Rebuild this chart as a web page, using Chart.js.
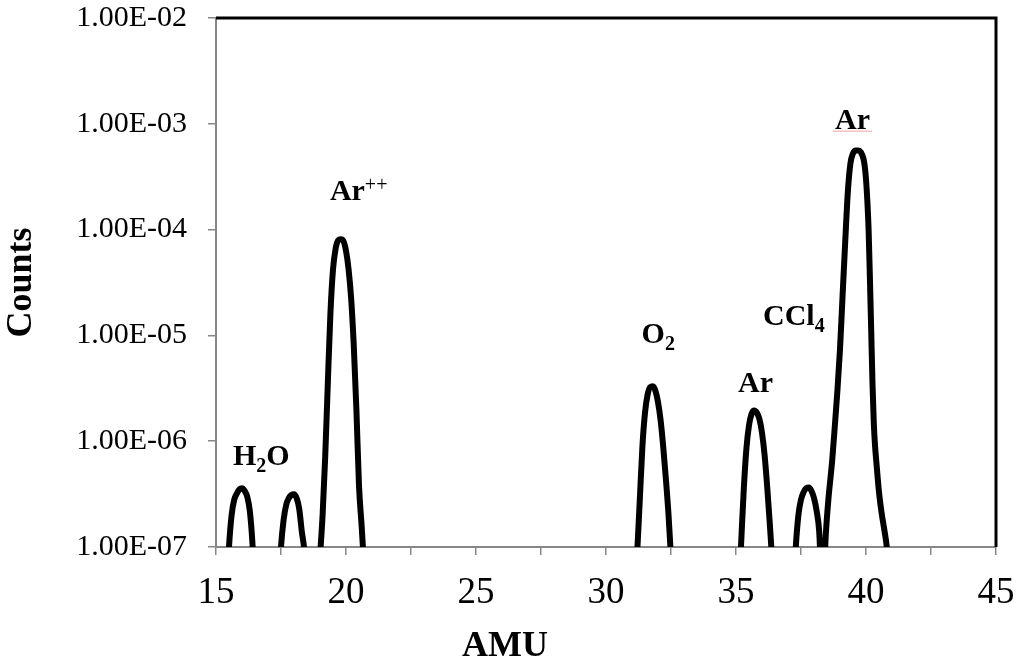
<!DOCTYPE html>
<html lang="en">
<head>
  <meta charset="UTF-8">
  <title>Mass Spectrum</title>
  <script src="https://cdn.jsdelivr.net/npm/chart.js"></script>
  <style>
    html, body {
      margin: 0;
      padding: 0;
      background: #fff;
    }
    #wrap {
      width: 1016px;
      height: 664px;
      position: relative;
    }
  </style>
</head>
<body>
  <div id="wrap">
    <canvas id="spectrumChart"></canvas>
  </div>

  <script>
    // AMU positions and measured counts (values under 1.00E-07 fall below the axis)
    const amu = [
      15.0, 15.3, 15.5, 15.6, 15.7, 15.8, 15.9, 16.0, 16.1, 16.2, 16.3, 16.4, 16.6,
      17.3, 17.5, 17.6, 17.7, 17.8, 17.9, 18.0, 18.1, 18.2, 18.3, 18.4, 18.6,
      18.8, 19.0, 19.1, 19.2, 19.3, 19.4, 19.5, 19.6, 19.7, 19.8, 19.9, 20.0, 20.1, 20.2, 20.3, 20.4, 20.5, 20.6, 20.7, 20.9,
      31.0, 31.2, 31.3, 31.4, 31.5, 31.6, 31.7, 31.8, 31.9, 32.0, 32.1, 32.2, 32.3, 32.4, 32.5, 32.7,
      35.0, 35.2, 35.3, 35.4, 35.5, 35.6, 35.7, 35.8, 35.9, 36.0, 36.1, 36.2, 36.3, 36.4, 36.6,
      37.1, 37.3, 37.4, 37.5, 37.6, 37.7, 37.8, 37.9, 38.0, 38.1, 38.2, 38.33,
      38.45, 38.55, 38.7, 38.8, 38.9, 39.0, 39.1, 39.2, 39.3, 39.4, 39.5, 39.6, 39.7, 39.8, 39.9, 39.95,
      40.0, 40.05, 40.1, 40.15, 40.2, 40.25, 40.3, 40.35, 40.4, 40.5, 40.6, 40.7, 40.8, 40.9, 41.1, 45.0
    ];
    const counts = [
      1e-8, 1e-8, 1.0e-7, 2.0e-7, 2.8e-7, 3.2e-7, 3.5e-7, 3.6e-7, 3.4e-7, 3.0e-7, 2.2e-7, 1.1e-7, 1e-8,
      1e-8, 1.0e-7, 1.8e-7, 2.5e-7, 2.9e-7, 3.1e-7, 3.15e-7, 2.9e-7, 2.3e-7, 1.4e-7, 0.9e-7, 1e-8,
      1e-8, 8e-8, 2.0e-7, 7.1e-7, 3.5e-6, 1.6e-5, 4.2e-5, 6.6e-5, 7.9e-5, 8.1e-5, 7.8e-5, 6.3e-5, 4.2e-5, 2.2e-5, 7.9e-6, 2.0e-6, 3.8e-7, 1.6e-7, 6.3e-8, 1e-8,
      1e-8, 8.9e-8, 2.8e-7, 8.9e-7, 1.86e-6, 2.75e-6, 3.24e-6, 3.3e-6, 3.0e-6, 2.34e-6, 1.58e-6, 8.9e-7, 4.5e-7, 2.1e-7, 8e-8, 1e-8,
      1e-8, 1.12e-7, 3.55e-7, 8.5e-7, 1.41e-6, 1.82e-6, 1.95e-6, 1.86e-6, 1.62e-6, 1.2e-6, 7.4e-7, 3.7e-7, 1.66e-7, 7e-8, 1e-8,
      1e-8, 1.0e-7, 2.0e-7, 2.8e-7, 3.3e-7, 3.6e-7, 3.65e-7, 3.4e-7, 2.9e-7, 2.2e-7, 1.4e-7, 3e-8,
      1.26e-7, 2.75e-7, 6.6e-7, 1.38e-6, 3.0e-6, 7.4e-6, 2.4e-5, 7.6e-5, 2.24e-4, 4.2e-4, 5.25e-4, 5.6e-4, 5.6e-4, 5.4e-4, 4.7e-4, 4.0e-4,
      3.0e-4, 1.9e-4, 1.0e-4, 3.5e-5, 1.12e-5, 3.5e-6, 1.48e-6, 8.9e-7, 6.3e-7, 3.3e-7, 2.1e-7, 1.48e-7, 1.0e-7, 5e-8, 1e-8, 1e-8
    ];

    const yTicks = [1e-7, 1e-6, 1e-5, 1e-4, 1e-3, 1e-2];
    const yTickLabels = ['1.00E-07', '1.00E-06', '1.00E-05', '1.00E-04', '1.00E-03', '1.00E-02'];
    const xLabelTicks = [15, 20, 25, 30, 35, 40, 45];

    // peak labels: text pieces and the data point of their left/baseline corner
    const peakLabels = [
      { parts: [['H'], ['2', 'sub'], ['O']], x: 15.65, y: 5.96e-7 },
      { parts: [['Ar'], ['++', 'sup']], x: 19.38, y: 1.9e-4 },
      { parts: [['O'], ['2', 'sub']], x: 31.37, y: 8.5e-6 },
      { parts: [['Ar']], x: 35.08, y: 2.9e-6 },
      { parts: [['CCl'], ['4', 'sub']], x: 36.04, y: 1.26e-5 },
      { parts: [['Ar']], x: 38.81, y: 8.9e-4, squiggle: true }
    ];

    const serif = '"Liberation Serif", "Times New Roman", serif';

    const frameAndLabels = {
      id: 'frameAndLabels',
      beforeDatasetsDraw(chart) {
        const { ctx, chartArea: a } = chart;
        ctx.save();
        ctx.strokeStyle = '#000';
        ctx.lineWidth = 3;
        ctx.beginPath();
        ctx.moveTo(a.left, a.top);
        ctx.lineTo(a.right, a.top);
        ctx.lineTo(a.right, a.bottom);
        ctx.stroke();
        ctx.restore();
      },
      afterDraw(chart) {
        const { ctx } = chart;
        const xs = chart.scales.x, ys = chart.scales.y;
        ctx.save();
        ctx.fillStyle = '#000';
        ctx.textBaseline = 'alphabetic';
        ctx.textAlign = 'left';
        peakLabels.forEach(lbl => {
          let px = xs.getPixelForValue(lbl.x);
          const py = ys.getPixelForValue(lbl.y);
          const startX = px;
          lbl.parts.forEach(([t, kind]) => {
            if (kind === 'sub') {
              ctx.font = 'bold 20px ' + serif;
              ctx.fillText(t, px, py + 7);
            } else if (kind === 'sup') {
              ctx.font = '20px ' + serif;
              ctx.fillText(t, px, py - 9);
            } else {
              ctx.font = 'bold 30px ' + serif;
              ctx.fillText(t, px, py);
            }
            px += ctx.measureText(t).width;
          });
          if (lbl.squiggle) {
            ctx.strokeStyle = '#f2a2a2';
            ctx.lineWidth = 1;
            ctx.beginPath();
            ctx.moveTo(startX - 2, py + 2);
            ctx.lineTo(px + 2, py + 2);
            ctx.stroke();
          }
        });
        // x axis title, centred on the page like the original
        ctx.font = 'bold 36px ' + serif;
        ctx.textAlign = 'center';
        ctx.fillText('AMU', 505, 656);
        ctx.restore();
      }
    };

    const ctx = document.getElementById('spectrumChart').getContext('2d');

    const chart = new Chart(ctx, {
      type: 'line',
      data: {
        datasets: [{
          data: amu.map((x, i) => ({ x: x, y: counts[i] })),
          borderColor: '#000',
          borderWidth: 6,
          pointRadius: 0,
          fill: false,
          tension: 0.4,
          cubicInterpolationMode: 'monotone',
          clip: 0
        }]
      },
      options: {
        responsive: true,
        maintainAspectRatio: false,
        animation: false,
        devicePixelRatio: 1,
        layout: { padding: { left: 0, right: 20, top: 18, bottom: 0 } },
        plugins: {
          legend: { display: false },
          tooltip: { enabled: false }
        },
        scales: {
          x: {
            type: 'linear',
            min: 15,
            max: 45,
            ticks: {
              stepSize: 2.5,
              autoSkip: false,
              maxRotation: 0,
              padding: 16,
              color: '#000',
              font: { family: serif, size: 37 },
              callback: v => xLabelTicks.includes(v) ? String(v) : ''
            },
            grid: {
              drawOnChartArea: false,
              color: '#878787',
              lineWidth: 1.5,
              tickLength: 8
            },
            border: { color: '#878787', width: 2 },
            afterFit: s => {
              s.height = 117;
              s.paddingLeft = 0;
              s.paddingRight = 0;
            }
          },
          y: {
            type: 'logarithmic',
            min: 1e-7,
            max: 1e-2,
            afterBuildTicks: s => { s.ticks = yTicks.map(v => ({ value: v })); },
            ticks: {
              padding: 21,
              color: '#000',
              font: { family: serif, size: 30 },
              callback: (v, i) => yTickLabels[yTicks.indexOf(v)] || ''
            },
            grid: {
              drawOnChartArea: false,
              color: '#878787',
              lineWidth: 1.5,
              tickLength: 8
            },
            border: { color: '#878787', width: 2 },
            title: {
              display: true,
              text: 'Counts',
              color: '#000',
              font: { family: serif, size: 36, weight: 'bold' },
              padding: { top: 0, bottom: 0 }
            },
            afterFit: s => {
              s.width = 216;
              s.paddingTop = 0;
              s.paddingBottom = 0;
            }
          }
        }
      },
      plugins: [frameAndLabels]
    });
  </script>
</body>
</html>
